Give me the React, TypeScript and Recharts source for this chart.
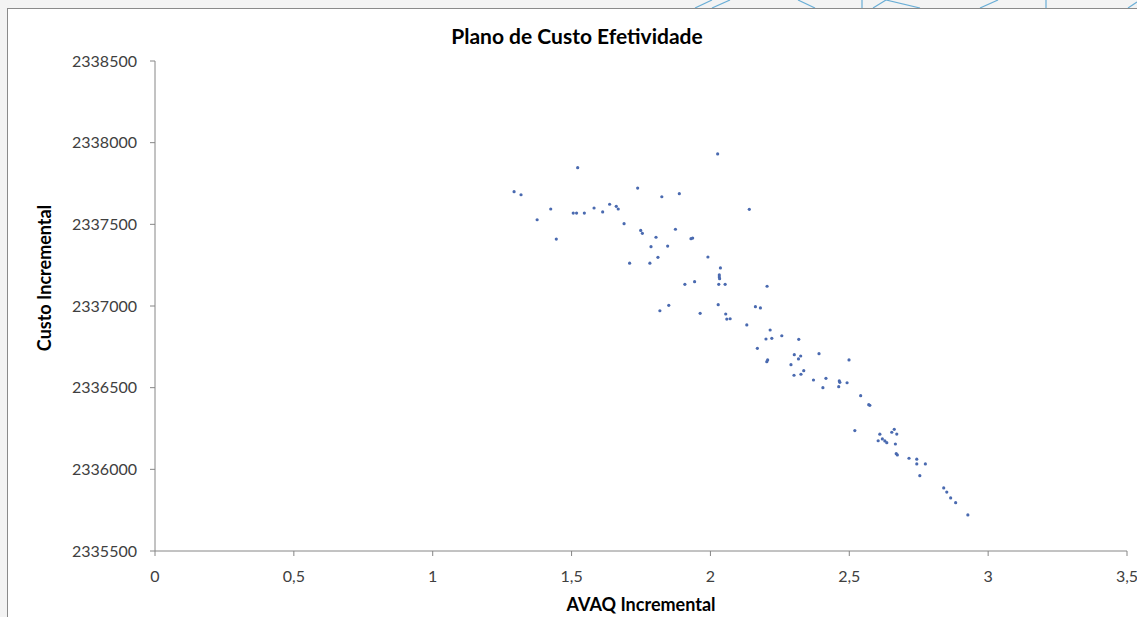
import { Scatter, ScatterChart, XAxis, YAxis } from "recharts";

// AVAQ incremental (x) and custo incremental (y), one entry per simulation
const avaq = [
  1.293, 1.318, 1.522, 1.425, 1.376, 1.445, 1.506, 1.518, 1.546, 1.581,
  1.612, 1.637, 1.661, 1.668, 1.689, 1.738, 1.825, 1.888, 2.026, 1.749,
  1.755, 1.804, 1.786, 1.846, 1.874, 1.93, 1.936, 1.811, 1.709, 1.782,
  1.991, 2.036, 2.032, 2.032, 2.033, 2.03, 2.053, 1.908, 1.943, 1.85,
  1.818, 1.963, 2.028, 2.055, 2.059, 2.071, 2.14, 2.204, 2.162, 2.18,
  2.131, 2.215, 2.2, 2.221, 2.257, 2.318, 2.169, 2.203, 2.206, 2.302,
  2.325, 2.317, 2.29, 2.301, 2.326, 2.336, 2.391, 2.371, 2.416, 2.405,
  2.464, 2.466, 2.462, 2.492, 2.499, 2.541, 2.57, 2.574, 2.52, 2.61,
  2.604, 2.619, 2.628, 2.635, 2.653, 2.662, 2.671, 2.666, 2.669, 2.673,
  2.715, 2.743, 2.743, 2.774, 2.754, 2.84, 2.851, 2.865, 2.883, 2.927,
];

const custo = [
  2337700, 2337681, 2337847, 2337594, 2337528, 2337410, 2337569, 2337569, 2337569, 2337600,
  2337576, 2337623, 2337610, 2337594, 2337504, 2337722, 2337669, 2337688, 2337931, 2337463,
  2337445, 2337421, 2337363, 2337367, 2337470, 2337412, 2337416, 2337298, 2337262, 2337262,
  2337300, 2337233, 2337190, 2337178, 2337167, 2337133, 2337133, 2337133, 2337149, 2337004,
  2336971, 2336955, 2337008, 2336951, 2336920, 2336922, 2337592, 2337121, 2336996, 2336988,
  2336884, 2336853, 2336798, 2336802, 2336818, 2336796, 2336741, 2336659, 2336670, 2336702,
  2336694, 2336676, 2336641, 2336576, 2336582, 2336604, 2336708, 2336547, 2336557, 2336500,
  2336541, 2336533, 2336506, 2336530, 2336670, 2336451, 2336396, 2336392, 2336237, 2336215,
  2336175, 2336186, 2336174, 2336163, 2336227, 2336245, 2336216, 2336155, 2336096, 2336088,
  2336068, 2336062, 2336033, 2336033, 2335961, 2335886, 2335861, 2335825, 2335796, 2335721,
];

const xTicks = [0, 0.5, 1, 1.5, 2, 2.5, 3, 3.5];
const yTicks = [2335500, 2336000, 2336500, 2337000, 2337500, 2338000, 2338500];

// bits of the page's background pattern peeking above the chart frame
const decoLines = [
  [695, 8, 712, 0], [712, 8, 730, 0], [798, 0, 815, 8], [862, 0, 862, 8],
  [873, 8, 886, 0], [886, 0, 920, 8], [980, 8, 998, 0], [1046, 0, 1046, 8],
  [1128, 8, 1137, 2],
];

const FONT = "Lato, 'Open Sans', sans-serif";
const AXIS = "#868686";

function Dot(props: any) {
  const { cx, cy } = props;
  if (cx == null || cy == null) return null;
  return <circle cx={cx} cy={cy} r={1.6} fill="#4a6ab0" />;
}

export default function App() {
  const data = avaq.map((x, i) => ({ x, y: custo[i] }));

  return (
    <div
      style={{
        position: "relative",
        width: 1137,
        height: 617,
        background: "#f3f3f3",
        fontFamily: FONT,
        overflow: "hidden",
      }}
    >
      <style>{"body{margin:0}"}</style>
      <svg width={1137} height={8} style={{ position: "absolute", left: 0, top: 0 }}>
        {decoLines.map(([x1, y1, x2, y2], i) => (
          <line key={i} x1={x1} y1={y1} x2={x2} y2={y2} stroke="#6aaed6" strokeWidth={1.2} />
        ))}
      </svg>
      <div
        style={{
          position: "absolute",
          left: 7,
          top: 8,
          width: 1130,
          height: 609,
          background: "#fff",
          borderLeft: "1px solid #8a8a8a",
          borderTop: "1px solid #8a8a8a",
          boxSizing: "border-box",
        }}
      >
        <ScatterChart
          width={1129}
          height={608}
          margin={{ top: 52, right: 10, bottom: 0, left: 0 }}
        >
          <XAxis
            type="number"
            dataKey="x"
            domain={[0, 3.5]}
            ticks={xTicks}
            interval={0}
            height={66}
            tickSize={5}
            tickMargin={15}
            stroke={AXIS}
            tick={{ fontSize: 16, fill: "#404040", fontFamily: FONT }}
            tickFormatter={(v: number) => String(v).replace(".", ",")}
            label={{
              value: "AVAQ Incremental",
              position: "insideBottom",
              offset: 6,
              style: { fontSize: 18, fontWeight: 700, fill: "#000", fontFamily: FONT },
            }}
          />
          <YAxis
            type="number"
            dataKey="y"
            domain={[2335500, 2338500]}
            ticks={yTicks}
            interval={0}
            width={147}
            tickSize={5}
            tickMargin={13}
            stroke={AXIS}
            tick={{ fontSize: 16, fill: "#404040", fontFamily: FONT }}
            tickFormatter={(v: number) => String(v)}
          />
          <Scatter data={data} shape={<Dot />} isAnimationActive={false} />
        </ScatterChart>
      </div>
      <div
        style={{
          position: "absolute",
          left: 577,
          top: 35,
          transform: "translate(-50%, -50%)",
          fontSize: 21,
          fontWeight: 700,
          whiteSpace: "nowrap",
          color: "#000",
        }}
      >
        Plano de Custo Efetividade
      </div>
      <div
        style={{
          position: "absolute",
          left: 44,
          top: 278,
          transform: "translate(-50%, -50%) rotate(-90deg)",
          fontSize: 18,
          fontWeight: 700,
          whiteSpace: "nowrap",
          color: "#000",
        }}
      >
        Custo Incremental
      </div>
    </div>
  );
}
